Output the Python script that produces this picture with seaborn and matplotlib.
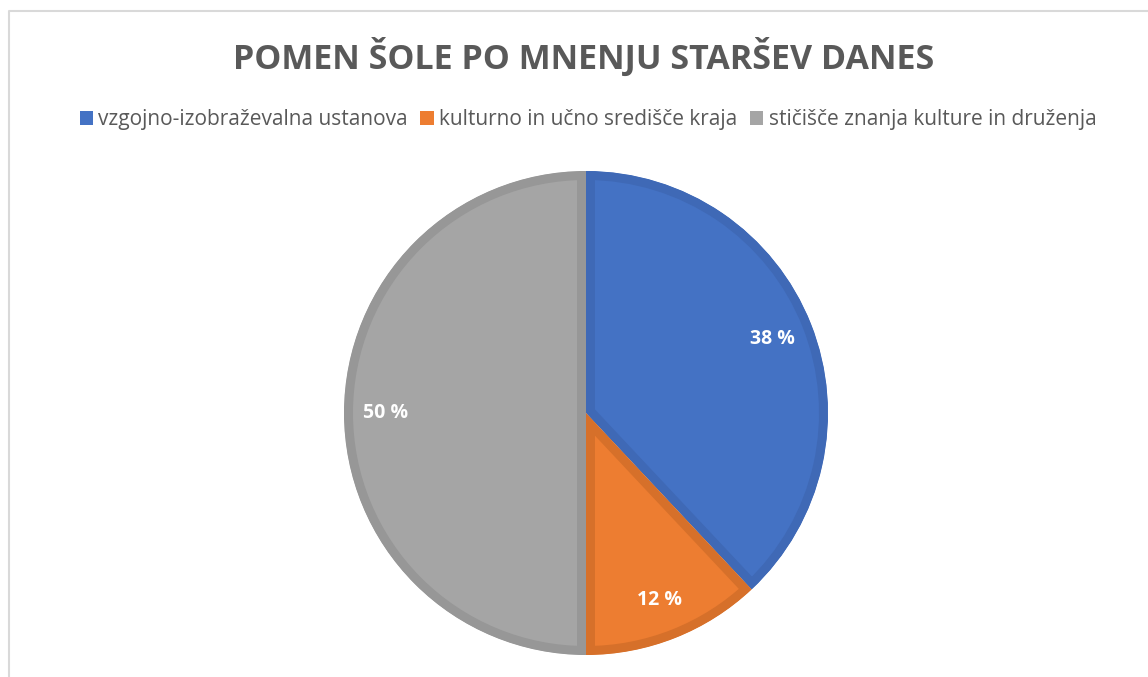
import numpy as np
import matplotlib
matplotlib.use("Agg")
import matplotlib.pyplot as plt
import matplotlib.patches as mpatches
import seaborn as sns

# podatki
categories = ["vzgojno-izobraževalna ustanova", "kulturno in učno središče kraja",
              "stičišče znanja kulture in druženja"]
values = [38, 12, 50]
colors = ["#4472C4", "#ED7D31", "#A5A5A5"]
edge_colors = ["#3F69B6", "#D6702A", "#979797"]
title = "POMEN ŠOLE PO MNENJU STARŠEV DANES"

sns.set_theme(style="white")
plt.rcParams['font.family'] = ['Open Sans', 'DejaVu Sans']

W, H = 1148, 677
fig = plt.figure(figsize=(W / 100, H / 100), dpi=100)
ax = fig.add_axes([0, 0, 1, 1])
ax.set_xlim(0, W)
ax.set_ylim(0, H)
ax.set_aspect('equal')
ax.axis('off')

# okvir grafa
ax.plot([8.5, 8.5, W], [0, H - 10.5, H - 10.5], color="#D9D9D9", lw=1.5, solid_capstyle='butt')

# rob rezine samo znotraj rezine (kot v Excelu)
lw_px = 18
wedges, texts, autotexts = ax.pie(
    values, colors=colors, startangle=90, counterclock=False,
    center=(586, H - 413), radius=242,
    autopct=lambda p: f"{p:.0f} %", pctdistance=0.83,
    wedgeprops=dict(linewidth=lw_px * 0.72, joinstyle='miter'),
    textprops=dict(color="white", fontsize=14, fontweight='bold'))
for w, ec in zip(wedges, edge_colors):
    w.set_edgecolor(ec)
    w.set_clip_on(True)
    w.set_clip_path(w)
ax.set_xlim(0, W)
ax.set_ylim(0, H)

fig.text(584 / W, 1 - 57 / H, title, ha='center', va='center', fontsize=24.5,
         fontweight='bold', color="#595959")

handles = [mpatches.Patch(facecolor=c, edgecolor='none', label=l) for c, l in zip(colors, categories)]
fig.legend(handles=handles, loc='center', bbox_to_anchor=(588 / W, 1 - 120 / H), ncol=3,
           frameon=False, fontsize=15, labelcolor="#595959",
           handlelength=0.65, handleheight=0.65, handletextpad=0.25, columnspacing=0.6)

fig.savefig("out.png", dpi=100, facecolor="white")
